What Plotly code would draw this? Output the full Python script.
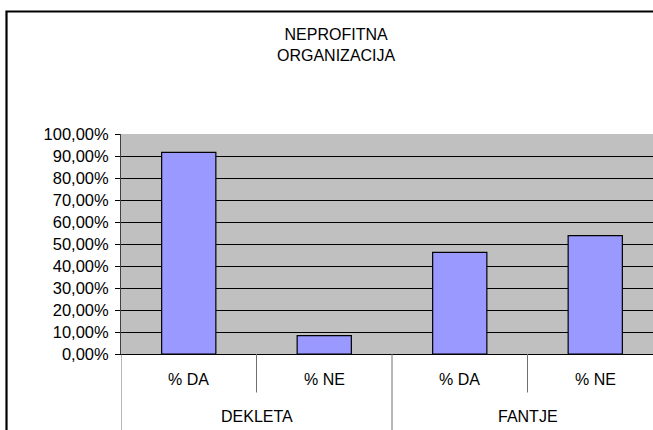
import plotly.graph_objects as go

groups = ["DEKLETA", "DEKLETA", "FANTJE", "FANTJE"]
answers = ["% DA", "% NE", "% DA", "% NE"]
values = [0.9167, 0.0833, 0.4615, 0.5385]
group_names = ["DEKLETA", "FANTJE"]
title_lines = ["NEPROFITNA", "ORGANIZACIJA"]

W, H = 653, 430
L, T, R, B = 121, 134, 0, 76
pw = W - L - R
ph = H - T - B
cat_px = 135.5
xr = [-0.5, -0.5 + pw / cat_px]

FONT = "Liberation Sans, Arial, sans-serif"
xpos = list(range(len(values)))

fig = go.Figure()
fig.add_trace(go.Bar(
    x=xpos, y=values, width=0.4,
    marker=dict(color="#9999FF", line=dict(color="black", width=1.2)),
    hoverinfo="skip",
))

def px_to_paper_x(px):
    return (px - L) / pw

def px_to_paper_y(py):
    return (H - B - py) / ph

shapes = []
annotations = []
# category dividers
for i in range(len(answers) + 1):
    xb = i - 0.5
    outer = (i == 0) or (i == len(answers)) or (i < len(answers) and groups[i] != groups[i - 1])
    y1 = px_to_paper_y(440) if outer else px_to_paper_y(392.5)
    shapes.append(dict(type="line", xref="x", yref="paper", x0=xb, x1=xb,
                       y0=0, y1=y1, line=dict(color="#707070", width=1)))
for i, a in enumerate(answers):
    annotations.append(dict(x=i, y=px_to_paper_y(379), xref="x", yref="paper",
                            xanchor="center", yanchor="middle",
                            text=a, showarrow=False,
                            font=dict(family=FONT, size=16, color="black")))
for g in group_names:
    idx = [i for i, gg in enumerate(groups) if gg == g]
    annotations.append(dict(x=sum(idx) / len(idx), y=px_to_paper_y(416.5), xref="x", yref="paper",
                            xanchor="center", yanchor="middle",
                            text=g, showarrow=False,
                            font=dict(family=FONT, size=16, color="black")))
# title
annotations.append(dict(x=px_to_paper_x(336), y=px_to_paper_y(44.5), xref="paper", yref="paper",
                        xanchor="center", yanchor="middle",
                        text="<br>".join(title_lines), showarrow=False,
                        font=dict(family=FONT, size=16, color="black")))
# chart border
shapes.append(dict(type="rect", xref="paper", yref="paper",
                   x0=px_to_paper_x(6.5), x1=px_to_paper_x(700),
                   y0=px_to_paper_y(480), y1=px_to_paper_y(11.5),
                   line=dict(color="black", width=2.2), layer="below"))

fig.update_layout(
    width=W, height=H,
    margin=dict(l=L, r=R, t=T, b=B, pad=0),
    plot_bgcolor="#C0C0C0", paper_bgcolor="white",
    separators=",.",
    showlegend=False,
    shapes=shapes, annotations=annotations,
    xaxis=dict(range=xr, showticklabels=False, showgrid=False, zeroline=False,
               showline=True, linecolor="black", linewidth=1, ticks="", fixedrange=True),
    yaxis=dict(range=[0, 1], dtick=0.1, tick0=0, tickformat=".2%",
               showgrid=True, gridcolor="black", gridwidth=1, zeroline=False,
               showline=True, linecolor="#404040", linewidth=1,
               ticks="outside", ticklen=5, tickcolor="black", ticklabelstandoff=3,
               tickfont=dict(family=FONT, size=16.5, color="black"), fixedrange=True),
)

fig.write_html("out.html", config={"displayModeBar": False},
               post_script="document.body.style.margin='0';document.body.style.overflow='hidden';")
